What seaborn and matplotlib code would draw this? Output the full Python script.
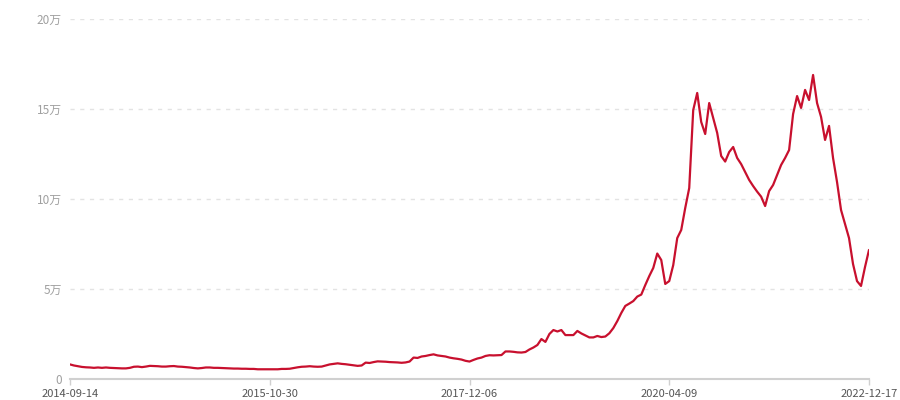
import matplotlib
matplotlib.use("Agg")
import matplotlib.pyplot as plt
import seaborn as sns
import pandas as pd
import numpy as np
from matplotlib.ticker import FuncFormatter

# values in 万 (10,000), sampled at evenly spaced points along the category axis
values_wan = [
    0.81, 0.75, 0.71, 0.67, 0.65, 0.64, 0.62, 0.64, 0.62, 0.64,
    0.62, 0.61, 0.60, 0.59, 0.59, 0.62, 0.68, 0.69, 0.66, 0.69,
    0.73, 0.72, 0.71, 0.69, 0.69, 0.71, 0.72, 0.69, 0.68, 0.66,
    0.64, 0.61, 0.59, 0.61, 0.64, 0.64, 0.62, 0.62, 0.61, 0.60,
    0.59, 0.58, 0.58, 0.57, 0.57, 0.56, 0.56, 0.54, 0.54, 0.54,
    0.54, 0.54, 0.54, 0.56, 0.56, 0.57, 0.61, 0.65, 0.68, 0.69,
    0.71, 0.69, 0.68, 0.69, 0.75, 0.81, 0.84, 0.87, 0.84, 0.82,
    0.79, 0.76, 0.73, 0.75, 0.91, 0.89, 0.94, 0.98, 0.97, 0.96,
    0.94, 0.93, 0.92, 0.90, 0.92, 0.97, 1.19, 1.17, 1.25, 1.28,
    1.33, 1.37, 1.31, 1.28, 1.25, 1.19, 1.15, 1.12, 1.08, 1.01,
    0.97, 1.06, 1.14, 1.19, 1.28, 1.32, 1.31, 1.32, 1.33, 1.53,
    1.53, 1.51, 1.48, 1.47, 1.50, 1.64, 1.75, 1.89, 2.22, 2.06,
    2.50, 2.72, 2.64, 2.72, 2.44, 2.44, 2.44, 2.67, 2.53, 2.42,
    2.31, 2.31, 2.39, 2.33, 2.36, 2.54, 2.83, 3.22, 3.67, 4.06,
    4.19, 4.33, 4.58, 4.69, 5.22, 5.72, 6.17, 6.97, 6.61, 5.28,
    5.44, 6.33, 7.83, 8.28, 9.50, 10.61, 14.94, 15.89, 14.28, 13.61,
    15.33, 14.50, 13.67, 12.39, 12.08, 12.61, 12.89, 12.28, 11.94, 11.50,
    11.06, 10.72, 10.41, 10.13, 9.61, 10.44, 10.78, 11.33, 11.89, 12.28,
    12.72, 14.72, 15.72, 15.06, 16.06, 15.50, 16.89, 15.33, 14.56, 13.28,
    14.06, 12.28, 10.94, 9.39, 8.61, 7.83, 6.39, 5.44, 5.17, 6.22,
    7.17,
]
x_tick_labels = ["2014-09-14", "2015-10-30", "2017-12-06", "2020-04-09", "2022-12-17"]
y_ticks_wan = [0, 5, 10, 15, 20]

values = [v * 10000 for v in values_wan]
df = pd.DataFrame({"idx": np.arange(len(values)), "value": values})

sns.set_theme(style="white")
plt.rcParams["font.family"] = ["Noto Sans CJK SC", "DejaVu Sans"]

fig = plt.figure(figsize=(9, 4), dpi=100)
ax = fig.add_axes([70 / 900, 21 / 400, 799 / 900, 360 / 400])

sns.lineplot(data=df, x="idx", y="value", ax=ax, color="#c8102e", linewidth=1.6)

n = len(values) - 1
ax.set_xlim(0, n)
ax.set_ylim(0, y_ticks_wan[-1] * 10000)

ax.set_yticks([t * 10000 for t in y_ticks_wan])
ax.yaxis.set_major_formatter(FuncFormatter(lambda v, p: "0" if v == 0 else f"{v/10000:g}万"))
ax.set_xticks(np.linspace(0, n, len(x_tick_labels)))
ax.set_xticklabels(x_tick_labels)

for t in y_ticks_wan[1:]:
    ax.axhline(t * 10000, color="#e3e3e3", linewidth=1.0, linestyle=(0, (3, 4)), zorder=0)

ax.set_xlabel("")
ax.set_ylabel("")
for s in ["top", "right", "left"]:
    ax.spines[s].set_visible(False)
ax.spines["bottom"].set_color("#d0d0d0")
ax.spines["bottom"].set_linewidth(1.5)

ax.tick_params(axis="y", length=0, pad=6, labelsize=8.5, labelcolor="#a0a0a0")
ax.tick_params(axis="x", length=4, width=1, color="#d0d0d0", pad=3, labelsize=8, labelcolor="#555555", bottom=True)

fig.savefig("out.png", dpi=100)
